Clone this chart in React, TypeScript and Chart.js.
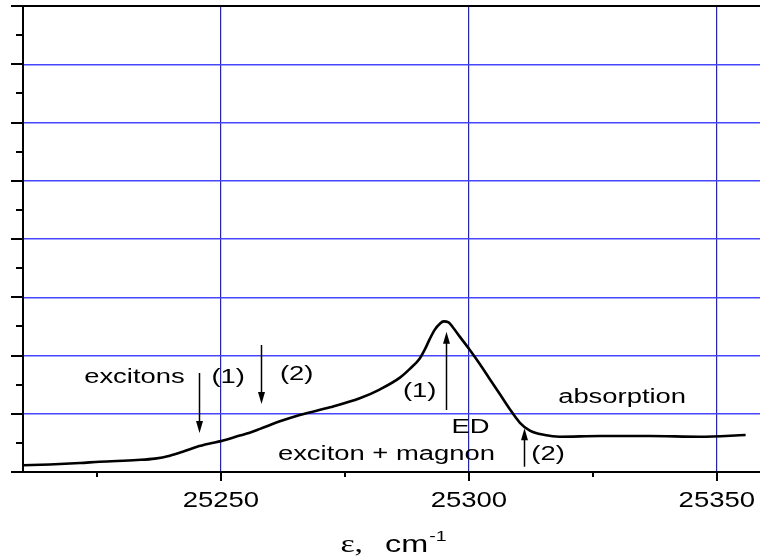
import React, { useEffect, useRef } from 'react';
import { Chart, registerables } from 'chart.js';

Chart.register(...registerables);

// ---- data ----
const energy = [
  25210.1, 25215.5, 25221.6, 25225.6, 25233.1, 25236.7, 25239.7, 25242.7, 25245.2, 25247.8,
  25250.0, 25253.8, 25255.8, 25257.9, 25261.9, 25265.9, 25272.0, 25278.0, 25282.1, 25286.1,
  25288.1, 25290.1, 25291.1, 25292.1, 25293.1, 25294.2, 25294.9, 25295.9, 25296.8, 25298.2,
  25300.2, 25302.2, 25304.2, 25306.3, 25308.3, 25310.3, 25312.3, 25315.3, 25318.3, 25326.4,
  25336.5, 25346.6, 25355.8,
];
const absorption = [
  0.115, 0.13, 0.155, 0.177, 0.206, 0.23, 0.28, 0.36, 0.434, 0.49,
  0.53, 0.625, 0.675, 0.74, 0.87, 0.98, 1.11, 1.265, 1.42, 1.62,
  1.77, 1.95, 2.10, 2.28, 2.44, 2.55, 2.585, 2.57, 2.48, 2.32,
  2.094, 1.854, 1.597, 1.33, 1.073, 0.845, 0.709, 0.635, 0.606, 0.618,
  0.618, 0.606, 0.635,
];

const xMin = 25210.1;
const xMax = 25358.7;
const xMajorTicks = [25250, 25300, 25350];
const xMinorTicks = [25225, 25275, 25325];
const xTickLabels = ['25250', '25300', '25350'];
const yMin = 0;
const yMax = 8;
const yMajorTicks = [0, 1, 2, 3, 4, 5, 6, 7, 8];
const yMinorTicks = [0.5, 1.5, 2.5, 3.5, 4.5, 5.5, 6.5, 7.5];

// annotations: text, x (data), baseline y (data), alignment
const noteTexts = ['excitons', '(1)', '(2)', '(1)', 'ED', 'exciton + magnon', '(2)', 'absorption'];
const noteX = [25242.7, 25248.1, 25261.9, 25286.7, 25296.5, 25261.5, 25312.6, 25318.0];
const noteY = [1.523, 1.528, 1.579, 1.282, 0.664, 0.206, 0.206, 1.179];
const noteAlign = ['right', 'left', 'left', 'left', 'left', 'left', 'left', 'left'];

// arrows: x (data), tail y, tip y
const arrowX = [25245.56, 25258.0, 25295.3, 25311.15];
const arrowFrom = [1.70, 2.18, 1.064, 0.091];
const arrowTo = [0.67, 1.167, 2.409, 0.75];

const SANS = '"Liberation Sans", Arial, sans-serif';
const SERIF = '"Liberation Serif", "Times New Roman", serif';

function drawStretched(ctx: CanvasRenderingContext2D, text: string, x: number, y: number, font: string, sx: number, align: string) {
  ctx.save();
  ctx.font = font;
  const w = ctx.measureText(text).width * sx;
  let x0 = x;
  if (align === 'right') x0 = x - w;
  else if (align === 'center') x0 = x - w / 2;
  ctx.translate(x0, y);
  ctx.scale(sx, 1);
  ctx.textAlign = 'left';
  ctx.textBaseline = 'alphabetic';
  ctx.fillStyle = '#000';
  ctx.fillText(text, 0, 0);
  ctx.restore();
  return w;
}

const framePlugin = {
  id: 'framePlugin',
  afterDraw(chart: any) {
    const ctx: CanvasRenderingContext2D = chart.ctx;
    const { left, top, right, bottom } = chart.chartArea;
    const xs = chart.scales.x;
    const ys = chart.scales.y;
    ctx.save();
    ctx.strokeStyle = '#000';
    ctx.lineWidth = 2;
    ctx.lineCap = 'butt';
    // frame lines
    ctx.beginPath();
    ctx.moveTo(left, top);
    ctx.lineTo(right, top);
    ctx.moveTo(left, top - 1);
    ctx.lineTo(left, bottom + 1);
    ctx.moveTo(left, bottom);
    ctx.lineTo(right, bottom);
    ctx.stroke();
    // y ticks
    ctx.beginPath();
    yMajorTicks.forEach((v) => {
      const p = Math.round(ys.getPixelForValue(v));
      ctx.moveTo(left - 12, p);
      ctx.lineTo(left, p);
    });
    yMinorTicks.forEach((v) => {
      const p = Math.round(ys.getPixelForValue(v));
      ctx.moveTo(left - 7, p);
      ctx.lineTo(left, p);
    });
    // x ticks
    xMajorTicks.forEach((v) => {
      const p = Math.round(xs.getPixelForValue(v));
      ctx.moveTo(p, bottom);
      ctx.lineTo(p, bottom + 9);
    });
    xMinorTicks.forEach((v) => {
      const p = Math.round(xs.getPixelForValue(v));
      ctx.moveTo(p, bottom);
      ctx.lineTo(p, bottom + 5);
    });
    ctx.stroke();

    // x tick labels
    xMajorTicks.forEach((v, i) => {
      const p = xs.getPixelForValue(v);
      drawStretched(ctx, xTickLabels[i], p, bottom + 35, `22px ${SANS}`, 1.25, 'center');
    });

    // axis title: "ε,  cm-1"
    const cx = (left + right) / 2 + 2;
    const base = 552;
    ctx.font = `26px ${SERIF}`;
    const w1 = ctx.measureText('ε,').width * 1.3;
    ctx.font = `24px ${SANS}`;
    const w2 = ctx.measureText('cm').width * 1.35;
    ctx.font = `15px ${SANS}`;
    const w3 = ctx.measureText('-1').width * 1.3;
    const gap = 22;
    const total = w1 + gap + w2 + 1 + w3;
    let x0 = cx - total / 2;
    drawStretched(ctx, 'ε,', x0, base, `26px ${SERIF}`, 1.3, 'left');
    x0 += w1 + gap;
    drawStretched(ctx, 'cm', x0, base, `24px ${SANS}`, 1.35, 'left');
    x0 += w2 + 1;
    drawStretched(ctx, '-1', x0, base - 11, `15px ${SANS}`, 1.3, 'left');

    // annotations
    noteTexts.forEach((t, i) => {
      drawStretched(ctx, t, xs.getPixelForValue(noteX[i]), ys.getPixelForValue(noteY[i]), `20px ${SANS}`, 1.37, noteAlign[i]);
    });

    // arrows
    ctx.lineWidth = 1.5;
    ctx.fillStyle = '#000';
    arrowX.forEach((ax, i) => {
      const px = Math.round(xs.getPixelForValue(ax)) + 0.5;
      const y1 = ys.getPixelForValue(arrowFrom[i]);
      const y2 = ys.getPixelForValue(arrowTo[i]);
      const dir = y2 > y1 ? 1 : -1;
      const headLen = 12;
      ctx.beginPath();
      ctx.moveTo(px, y1);
      ctx.lineTo(px, y2 - dir * headLen * 0.8);
      ctx.stroke();
      ctx.beginPath();
      ctx.moveTo(px, y2);
      ctx.lineTo(px - 3.5, y2 - dir * headLen);
      ctx.lineTo(px + 3.5, y2 - dir * headLen);
      ctx.closePath();
      ctx.fill();
    });
    ctx.restore();
  },
};

export default function App() {
  const canvasRef = useRef<HTMLCanvasElement | null>(null);

  useEffect(() => {
    if (!canvasRef.current) return;
    const points = energy.map((e, i) => ({ x: e, y: absorption[i] }));
    const chart = new Chart(canvasRef.current, {
      type: 'line',
      data: {
        datasets: [
          {
            label: 'absorption',
            data: points,
            borderColor: '#000',
            borderWidth: 2.6,
            pointRadius: 0,
            fill: false,
            cubicInterpolationMode: 'monotone',
            borderJoinStyle: 'round',
          },
        ],
      },
      options: {
        animation: false,
        responsive: false,
        devicePixelRatio: 1,
        layout: { padding: { left: 0, right: 0, top: 6, bottom: 0 } },
        plugins: {
          legend: { display: false },
          tooltip: { enabled: false },
        },
        scales: {
          x: {
            type: 'linear',
            min: xMin,
            max: xMax,
            border: { display: false },
            ticks: { display: false },
            grid: { color: '#1a1aff', lineWidth: 1.2, drawTicks: false },
            afterBuildTicks: (scale: any) => {
              scale.ticks = xMajorTicks.map((v) => ({ value: v }));
            },
            afterFit: (scale: any) => {
              scale.height = 87;
            },
          },
          y: {
            type: 'linear',
            min: yMin,
            max: yMax,
            border: { display: false },
            ticks: { display: false },
            grid: { color: '#4646ff', lineWidth: 1.4, drawTicks: false },
            afterBuildTicks: (scale: any) => {
              scale.ticks = yMajorTicks.map((v) => ({ value: v }));
            },
            afterFit: (scale: any) => {
              scale.width = 23;
            },
          },
        },
      },
      plugins: [framePlugin],
    } as any);
    return () => chart.destroy();
  }, []);

  return (
    <div style={{ position: 'fixed', left: 0, top: 0, width: 760, height: 559, background: '#fff' }}>
      <canvas ref={canvasRef} width={760} height={559} style={{ width: 760, height: 559 }} />
    </div>
  );
}
